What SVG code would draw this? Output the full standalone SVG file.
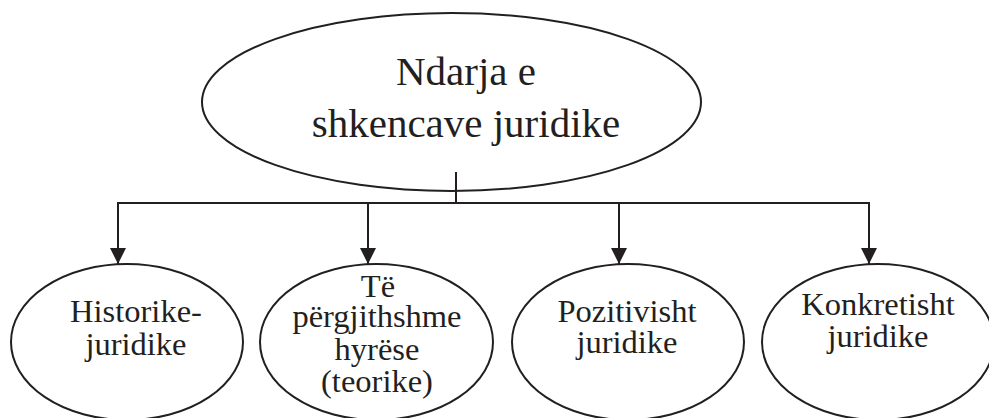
<svg xmlns="http://www.w3.org/2000/svg" width="989" height="418" viewBox="0 0 989 418">
<style>
.node ellipse{fill:#ffffff;stroke:#231f20;stroke-width:2}
text{fill:#231f20;text-anchor:middle}
.big{font-size:41px}
.small{font-size:32.5px}
.conn line{stroke:#231f20;stroke-width:2;fill:none}
</style>
<defs>
<marker id="arr" markerUnits="userSpaceOnUse" markerWidth="16" markerHeight="16" refX="16" refY="8" orient="auto" viewBox="0 0 16 16">
<path d="M0,0 L16,8 L0,16 Z" fill="#231f20"/>
</marker>
</defs>
<rect width="989" height="418" fill="#ffffff"/>
<g id="root" class="node">
<ellipse cx="451.5" cy="102" rx="249.5" ry="89"/>
<text class="big" font-family="'Liberation Serif', serif" x="466" y="85">Ndarja e</text>
<text class="big" font-family="'Liberation Serif', serif" x="466" y="137">shkencave juridike</text>
</g>
<g id="n1" class="node">
<ellipse cx="127" cy="342" rx="116" ry="78"/>
<text class="small" font-family="'Liberation Serif', serif" x="136" y="322">Historike-</text>
<text class="small" font-family="'Liberation Serif', serif" x="136" y="355">juridike</text>
</g>
<g id="n2" class="node">
<ellipse cx="376.5" cy="342" rx="116.5" ry="78"/>
<text class="small" font-family="'Liberation Serif', serif" x="378" y="297">Të</text>
<text class="small" font-family="'Liberation Serif', serif" x="377" y="327">përgjithshme</text>
<text class="small" font-family="'Liberation Serif', serif" x="377" y="360">hyrëse</text>
<text class="small" font-family="'Liberation Serif', serif" x="377" y="392">(teorike)</text>
</g>
<g id="n3" class="node">
<ellipse cx="628" cy="342" rx="116" ry="78"/>
<text class="small" font-family="'Liberation Serif', serif" x="627" y="322">Pozitivisht</text>
<text class="small" font-family="'Liberation Serif', serif" x="627" y="353">juridike</text>
</g>
<g id="n4" class="node">
<ellipse cx="878" cy="342" rx="116" ry="78"/>
<text class="small" font-family="'Liberation Serif', serif" x="878" y="315">Konkretisht</text>
<text class="small" font-family="'Liberation Serif', serif" x="878" y="347">juridike</text>
</g>
<g id="connectors" class="conn">
<line x1="456" y1="172" x2="456" y2="203"/>
<line x1="117" y1="203" x2="870" y2="203"/>
<line x1="118" y1="203" x2="118" y2="264" marker-end="url(#arr)"/>
<line x1="368" y1="203" x2="368" y2="264" marker-end="url(#arr)"/>
<line x1="619" y1="203" x2="619" y2="264" marker-end="url(#arr)"/>
<line x1="869" y1="203" x2="869" y2="264" marker-end="url(#arr)"/>
</g>
</svg>
